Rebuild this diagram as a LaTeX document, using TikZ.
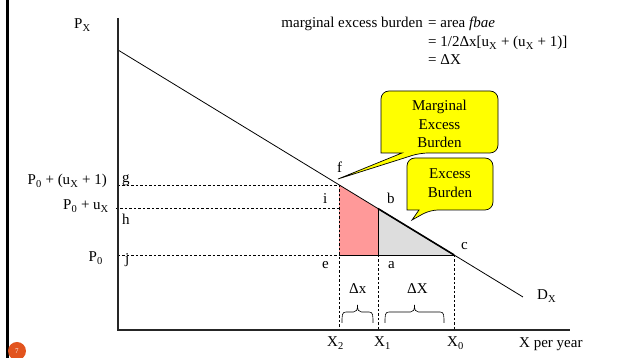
\documentclass[tikz,border=0pt]{standalone}
\usepackage{fontspec}
\setmainfont{Liberation Serif}
\definecolor{CalloutYellow}{RGB}{255,255,0}
\definecolor{AreaPink}{RGB}{255,153,153}
\definecolor{AreaGray}{RGB}{221,221,221}
\definecolor{SlideOrange}{RGB}{226,84,30}
\usetikzlibrary{positioning,calc}
% tall curly brace over the x axis, from x=#1 to x=#2
\newcommand{\qtybrace}[2]{%
  \draw[line width=0.6pt] ({#1},7) .. controls ({#1},15) and ({#1},18) .. ({#1+4},18)
    -- ({(#1+#2)/2-4},18) .. controls ({(#1+#2)/2-1},18) and ({(#1+#2)/2},20) .. ({(#1+#2)/2},25)
    .. controls ({(#1+#2)/2},20) and ({(#1+#2)/2+1},18) .. ({(#1+#2)/2+4},18)
    -- ({#2-4},18) .. controls ({#2},18) and ({#2},15) .. ({#2},7);}

\begin{document}
\begin{tikzpicture}[x=1pt,y=1pt,font=\fontsize{15}{18.5}\selectfont,
  guide/.style={dash pattern=on 2.5pt off 2pt,line width=0.5pt},
  callout/.style={draw,fill=CalloutYellow,rounded corners=8pt,line width=0.7pt},
  lbl/.style={anchor=base west,inner sep=0pt}]
\useasboundingbox (-118,-28) rectangle (501,330);
% slide edge and page number
\draw[line width=3pt] (-110.5,-28) -- (-110.5,330);
\node[circle,fill=SlideOrange,minimum size=18pt,inner sep=0pt,text=white,font=\fontsize{7}{8}\selectfont] (pagenum) at (-101,-21) {7};

% points on the demand curve
\coordinate (O) at (0,0);
\coordinate (ytop) at (0,312);
\coordinate (xend) at (452,0);
\coordinate (dstart) at (0,280);
\coordinate (dend) at (405,33);
\coordinate (f) at (221,145.2);
\coordinate (b) at (260,121.4);
\coordinate (c) at (336,75.1);
\coordinate (i) at (221,121.4);
\coordinate (e) at (221,75.1);
\coordinate (a) at (260,75.1);
\coordinate (g) at (0,145.2);
\coordinate (h) at (-2,121.4);
\coordinate (j) at (0,75.1);
\coordinate (x2) at (221,0);
\coordinate (x1) at (260,0);
\coordinate (x0) at (336,0);

\fill[AreaPink] (e) -- (f) -- (b) -- (a) -- cycle;
\fill[AreaGray] (a) -- (b) -- (c) -- cycle;

\draw[guide] (g) -- (f);
\draw[guide] (h) -- (i);
\draw[guide] (j) -- (e);
\draw[guide] (f) -- (x2);
\draw[guide] (a) -- (x1);
\draw[guide] (c) -- (x0);

\draw[line width=0.7pt] (b) -- (a);
\draw[line width=0.6pt] (e) -- (c);
\draw[line width=0.8pt] (dstart) -- (dend);
\draw[line width=1.6pt] (b) -- (c);
\draw[line width=1.1pt,black!85] (ytop) -- (O) -- (xend);

\qtybrace{224}{255}
\qtybrace{267}{326}

% callouts
\draw[callout] (332,172) -- (375,172) -- (375,120) -- (312,120) [sharp corners] -- (294,110) -- (301,120) -- (289,120) [rounded corners=8pt] -- (289,172) -- cycle;
\node[align=center] (ebbox) at (332,147) {Excess\\Burden};
\draw[callout] (321,239) -- (380,239) -- (380,177) -- (302,177) [sharp corners] -- (220,151) -- (284,177) -- (263,177) [rounded corners=8pt] -- (263,239) -- cycle;
\node[align=center] (mebox) at (321.5,206) {Marginal\\Excess\\Burden};

% formula
\node[lbl] (eq1) at (310,302) {= area \textit{fbae}};
\node[lbl,anchor=base east] (eqname) at (305,302) {marginal excess burden};
\node[lbl] (eq2) at (310,283) {= 1/2Δx[u\textsubscript{X} + (u\textsubscript{X} + 1)]};
\node[lbl] (eq3) at (310,265) {= ΔX};

% axis labels
\node[lbl] (px) at (-44,301) {P\textsubscript{X}};
\node[lbl,anchor=base east] (pgtop) at (-11,145) {P\textsubscript{0} + (u\textsubscript{X} + 1)};
\node[lbl,anchor=base east] (pgmid) at (-9,120) {P\textsubscript{0} + u\textsubscript{X}};
\node[lbl,anchor=base east] (pzero) at (-15,68) {P\textsubscript{0}};
\node[lbl] (glbl) at (4,147) {g};
\node[lbl] (hlbl) at (4,105) {h};
\node[lbl] (jlbl) at (7,66) {j};
\node[lbl] (flbl) at (219,157) {f};
\node[lbl] (ilbl) at (205,126) {i};
\node[lbl] (blbl) at (269,126) {b};
\node[lbl] (clbl) at (343,80) {c};
\node[lbl] (elbl) at (204,61) {e};
\node[lbl] (albl) at (270,61) {a};
\node[lbl] (dx) at (231,36) {Δx};
\node[lbl] (dbigx) at (289,36) {ΔX};
\node[lbl] (dlbl) at (419,30) {D\textsubscript{X}};
\node[lbl] (xtwo) at (209,-17) {X\textsubscript{2}};
\node[lbl] (xone) at (256,-17) {X\textsubscript{1}};
\node[lbl] (xzero) at (329,-17) {X\textsubscript{0}};
\node[lbl] (xper) at (401,-18) {X per year};
\end{tikzpicture}
\end{document}
